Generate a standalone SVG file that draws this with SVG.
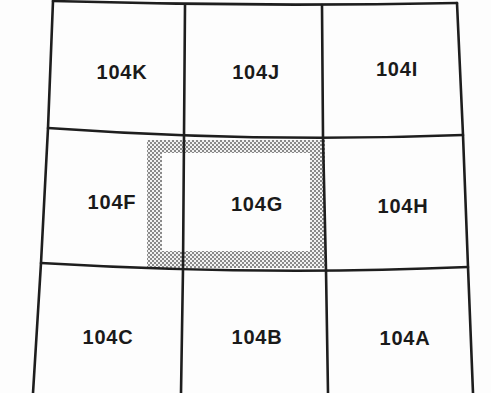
<svg xmlns="http://www.w3.org/2000/svg" width="491" height="393" viewBox="0 0 491 393">
<defs>
<pattern id="dots" width="4" height="4" patternUnits="userSpaceOnUse">
<rect width="4" height="4" fill="#f2f2f2"/>
<rect x="0" y="0" width="2" height="2" fill="#8a8a8a"/>
<rect x="2" y="2" width="2" height="2" fill="#8a8a8a"/>
</pattern>
<style>
.ln{fill:none;stroke:#1e1e1e;stroke-width:2.6;stroke-linejoin:round;stroke-linecap:round}
.lb{font-family:"Liberation Sans",Arial,sans-serif;font-size:20px;font-weight:bold;fill:#1a1a1a;text-anchor:middle;letter-spacing:0.8px}
</style>
</defs>
<rect width="491" height="393" fill="#fdfdfd"/>
<g id="highlight">
<path d="M147,140 H325 V268 H147 Z M162,153 V251 H310 V153 Z" fill="url(#dots)" fill-rule="evenodd"/>
</g>
<g id="connectors">
<path class="ln" d="M53,1 Q255,7 457,3"/>
<path class="ln" d="M48,128 Q260,143 463,135"/>
<path class="ln" d="M41,263 Q260,276 468,267"/>
<path class="ln" d="M53,1 L48,128 L41,263 L33,393"/>
<path class="ln" d="M185,5 L184,136 L183,269 L181,393"/>
<path class="ln" d="M322,5 L323,137 L326,270 L328,393"/>
<path class="ln" d="M457,3 L463,135 L468,267 L473,393"/>
</g>
<g id="n104K"><text class="lb" x="122" y="79">104K</text></g>
<g id="n104J"><text class="lb" x="256" y="79">104J</text></g>
<g id="n104I"><text class="lb" x="397" y="76">104I</text></g>
<g id="n104F"><text class="lb" x="112" y="209">104F</text></g>
<g id="n104G"><text class="lb" x="257" y="211">104G</text></g>
<g id="n104H"><text class="lb" x="403" y="213">104H</text></g>
<g id="n104C"><text class="lb" x="108" y="344">104C</text></g>
<g id="n104B"><text class="lb" x="257" y="344">104B</text></g>
<g id="n104A"><text class="lb" x="405" y="345">104A</text></g>
</svg>
